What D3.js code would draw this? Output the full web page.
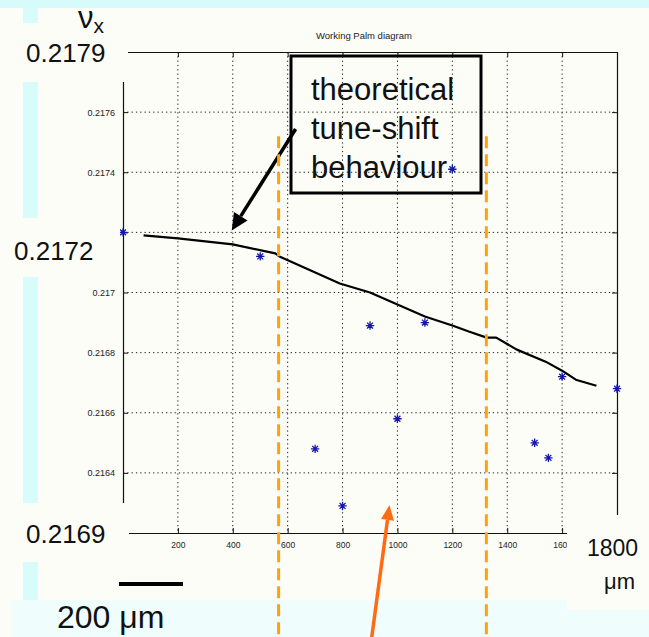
<!DOCTYPE html>
<html>
<head>
<meta charset="utf-8">
<script src="https://cdn.jsdelivr.net/npm/d3@7"></script>
<style>
  html, body { margin: 0; padding: 0; background: #fdfdf8; }
  svg { display: block; }
</style>
</head>
<body>
<div id="chart"></div>
<script>
// Measured horizontal tune versus position (µm)
const measX = [0, 500, 700, 800, 900, 1000, 1100, 1200, 1500, 1550, 1600, 1800];
const measTune = [0.2172, 0.21712, 0.21648, 0.21629, 0.21689, 0.21658, 0.2169, 0.21741, 0.2165, 0.21645, 0.21672, 0.21668];

// Theoretical tune-shift curve
const theoX = [75, 200, 400, 555, 570, 790, 900, 1000, 1100, 1200, 1260, 1325, 1360, 1435, 1540, 1600, 1650, 1725];
const theoTune = [0.21719, 0.21718, 0.21716, 0.21713, 0.21712, 0.21703, 0.217, 0.21696, 0.21692, 0.21689, 0.21687, 0.21685, 0.21685, 0.21681, 0.21677, 0.21674, 0.21671, 0.21669];

// Axis ticks (labels left empty where the large slide labels sit on top)
const xTicks = [200, 400, 600, 800, 1000, 1200, 1400, 1600, 1800];
const xTickLabels = ["200", "400", "600", "800", "1000", "1200", "1400", "1600", ""];
const yTicks = [0.2162, 0.2164, 0.2166, 0.2168, 0.217, 0.2172, 0.2174, 0.2176, 0.2178];
const yTickLabels = ["", "0.2164", "0.2166", "0.2168", "0.217", "", "0.2174", "0.2176", ""];

// Annotation anchors, in data units
const gateX = [567, 1324];               // orange dashed window edges
const gateTopTune = 0.21752;
const theoArrow = { x1: 629, t1: 0.217544, x2: 396, t2: 0.217206 };
const measArrow = { x2: 971, t2: 0.216293, x1: 905 };

const W = 649, H = 637;
const svg = d3.select("#chart").append("svg").attr("width", W).attr("height", H);
const bg = "#fdfdf8";

svg.append("rect").attr("width", W).attr("height", H).attr("fill", bg);
// slide decorations
svg.append("rect").attr("x", 0).attr("y", 0).attr("width", W).attr("height", 8).attr("fill", "#d7fafa");
svg.append("rect").attr("x", 23).attr("y", 8).attr("width", 15).attr("height", 592).attr("fill", "#d8fbfb");
svg.append("rect").attr("x", 11).attr("y", 600).attr("width", W - 11).attr("height", H - 600).attr("fill", "#effdfd");

const x = d3.scaleLinear().domain([0, 1800]).range([123, 617]);
const y = d3.scaleLinear().domain([0.2162, 0.2178]).range([533, 52]);

const plot = svg.append("g");

// dotted grid
const gridDash = "1.3,3";
plot.append("g").selectAll("line").data(xTicks.filter(d => d < 1800)).join("line")
  .attr("x1", d => x(d)).attr("x2", d => x(d))
  .attr("y1", y.range()[1]).attr("y2", y.range()[0])
  .attr("stroke", "#222").attr("stroke-width", 1).attr("stroke-dasharray", gridDash);
plot.append("g").selectAll("line").data(yTicks.filter(d => d > 0.21621 && d < 0.21779)).join("line")
  .attr("x1", x.range()[0]).attr("x2", x.range()[1])
  .attr("y1", d => y(d)).attr("y2", d => y(d))
  .attr("stroke", "#222").attr("stroke-width", 1).attr("stroke-dasharray", gridDash);

// axes with inward ticks
const tickFont = "'Liberation Sans', Arial, sans-serif";
const axB = plot.append("g").attr("transform", `translate(0,${y.range()[0]})`)
  .call(d3.axisBottom(x).tickValues(xTicks).tickSizeInner(-5).tickSizeOuter(0)
    .tickFormat((d, i) => xTickLabels[i]).tickPadding(9));
const axT = plot.append("g").attr("transform", `translate(0,${y.range()[1]})`)
  .call(d3.axisTop(x).tickValues(xTicks).tickSizeInner(-5).tickSizeOuter(0).tickFormat(""));
const axL = plot.append("g").attr("transform", `translate(${x.range()[0]},0)`)
  .call(d3.axisLeft(y).tickValues(yTicks).tickSizeInner(-5).tickSizeOuter(0)
    .tickFormat((d, i) => yTickLabels[i]).tickPadding(8));
const axR = plot.append("g").attr("transform", `translate(${x.range()[1]},0)`)
  .call(d3.axisRight(y).tickValues(yTicks).tickSizeInner(-5).tickSizeOuter(0).tickFormat(""));
[axB, axT, axL, axR].forEach(a => {
  a.select(".domain").attr("stroke", "#111").attr("stroke-width", 1.2);
  a.selectAll(".tick line").attr("stroke", "#111");
  a.selectAll("text").attr("fill", "#222").attr("font-family", tickFont);
});
axB.selectAll("text").attr("font-size", 8.5);
axL.selectAll("text").attr("font-size", 9);

// title
plot.append("text").attr("x", 364).attr("y", 39)
  .attr("text-anchor", "middle").attr("font-family", tickFont).attr("font-size", 9.5)
  .attr("fill", "#222").text("Working Palm diagram");

// theoretical curve
plot.append("path")
  .datum(theoX.map((d, i) => [d, theoTune[i]]))
  .attr("fill", "none").attr("stroke", "#000").attr("stroke-width", 2.2)
  .attr("stroke-linejoin", "round")
  .attr("d", d3.line().x(d => x(d[0])).y(d => y(d[1])));

// measured points as asterisks
const r = 4.2, a = r * 0.7;
const star = `M${-r},0L${r},0M0,${-r}L0,${r}M${-a},${-a}L${a},${a}M${-a},${a}L${a},${-a}`;
plot.append("g").selectAll("path").data(measX.map((d, i) => [d, measTune[i]])).join("path")
  .attr("transform", d => `translate(${x(d[0])},${y(d[1])})`)
  .attr("d", star).attr("fill", "none").attr("stroke", "#1515b0").attr("stroke-width", 1.3);

// covering panels for the large overlay labels
const panels = [[0, 23, 128, 59], [0, 218, 120, 59], [0, 503, 129, 59], [567, 515, 82, 95]];
svg.append("g").selectAll("rect").data(panels).join("rect")
  .attr("x", d => d[0]).attr("y", d => d[1]).attr("width", d => d[2]).attr("height", d => d[3])
  .attr("fill", bg);

const bigFont = "'Liberation Sans', Arial, sans-serif";
const big = svg.append("g").attr("font-family", bigFont).attr("fill", "#111");
const nu = big.append("text").attr("x", 78).attr("y", 28).attr("font-size", 31);
nu.append("tspan").text("ν");
nu.append("tspan").attr("font-size", 21).attr("dy", 5).text("x");
big.append("text").attr("x", 26).attr("y", 62).attr("font-size", 26).text("0.2179");
big.append("text").attr("x", 14).attr("y", 260).attr("font-size", 26).text("0.2172");
big.append("text").attr("x", 26).attr("y", 543).attr("font-size", 26).text("0.2169");
big.append("text").attr("x", 587).attr("y", 556).attr("font-size", 23).text("1800");
big.append("text").attr("x", 604).attr("y", 589).attr("font-size", 22).text("μm");
big.append("text").attr("x", 57).attr("y", 628).attr("font-size", 32).text("200 μm");
// scale bar
svg.append("rect").attr("x", 119).attr("y", 582).attr("width", 64).attr("height", 4).attr("fill", "#000");

// annotation box
svg.append("rect").attr("x", 291).attr("y", 56).attr("width", 190).attr("height", 137)
  .attr("fill", "none").attr("stroke", "#000").attr("stroke-width", 3);
const boxText = svg.append("text").attr("font-family", "'Liberation Sans', Arial, sans-serif")
  .attr("font-size", 31).attr("fill", "#111");
["theoretical", "tune-shift", "behaviour"].forEach((t, i) => {
  boxText.append("tspan").attr("x", 311).attr("y", 100 + i * 39).text(t);
});

// arrow helper
function arrow(g, x1, y1, x2, y2, color, w, headLen, headHalf) {
  const ang = Math.atan2(y2 - y1, x2 - x1);
  const bx = x2 - headLen * Math.cos(ang), by = y2 - headLen * Math.sin(ang);
  g.append("line").attr("x1", x1).attr("y1", y1).attr("x2", bx).attr("y2", by)
    .attr("stroke", color).attr("stroke-width", w);
  const px = -Math.sin(ang) * headHalf, py = Math.cos(ang) * headHalf;
  g.append("path").attr("d", `M${x2},${y2}L${bx + px},${by + py}L${bx - px},${by - py}Z`).attr("fill", color);
}
const ann = svg.append("g");
arrow(ann, x(theoArrow.x1), y(theoArrow.t1), x(theoArrow.x2), y(theoArrow.t2), "#000", 3.5, 17, 8);

// orange dashed window edges
ann.selectAll("line.gate").data(gateX).join("line").attr("class", "gate")
  .attr("x1", d => x(d)).attr("x2", d => x(d))
  .attr("y1", y(gateTopTune)).attr("y2", H)
  .attr("stroke", "#ffa10f").attr("stroke-width", 3).attr("stroke-dasharray", "12,6");

arrow(ann, x(measArrow.x1), H + 3, x(measArrow.x2), y(measArrow.t2), "#ff6a12", 3.5, 15, 6.5);
</script>
</body>
</html>
